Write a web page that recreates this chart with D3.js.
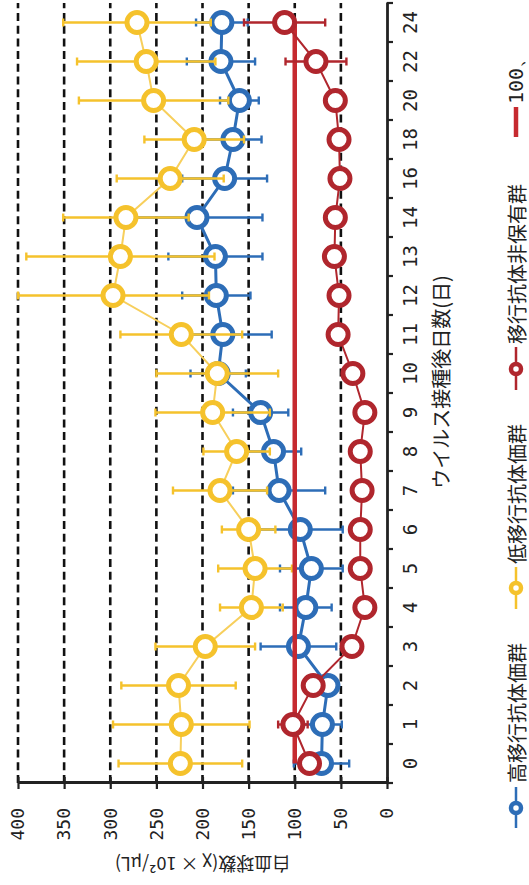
<!DOCTYPE html>
<html>
<head>
<meta charset="utf-8">
<script src="https://cdn.jsdelivr.net/npm/d3@7"></script>
<style>
  html, body { margin: 0; padding: 0; background: #fff; }
  svg { display: block; }
</style>
</head>
<body>
<svg id="chart"></svg>
<script>
// days after inoculation (category axis)
const days = ['0', '1', '2', '3', '4', '5', '6', '7', '8', '9', '10', '11', '12', '13', '14', '16', '18', '20', '22', '24'];

// 高移行抗体価群
const highMean = [71, 70, 64, 96, 88, 82, 94, 117, 123, 137, 183, 178, 185, 186, 206, 176, 167, 160, 180, 179];
const highSd = [30, 21, 10, 41, 28, 34, 46, 50, 30, 30, 30, 53, 37, 51, 71, 46, 31, 21, 37, 28];

// 低移行抗体価群
const lowMean = [224, 223, 226, 197, 147, 143, 150, 181, 163, 189, 184, 223, 297, 289, 283, 235, 209, 253, 261, 271];
const lowSd = [67, 74, 62, 54, 34, 40, 29, 51, 36, 62, 66, 66, 104, 102, 68, 58, 54, 81, 75, 80];

// 移行抗体非保有群
const noneMean = [84, 102, 80, 38, 24, 29, 29, 27, 29, 24, 37, 53, 52, 57, 56, 51, 52, 56, 77, 111];
const noneSd = [10, 16, 8, 8, 6, 6, 6, 6, 6, 6, 8, 8, 8, 8, 8, 8, 8, 8, 33, 44];

const valueTicks = [0, 50, 100, 150, 200, 250, 300, 350, 400];
const refValue = 100;

const W = 529, H = 885;          // page
const cw = 885, ch = 529;        // chart drawn unrotated, then turned 90deg ccw

const svg = d3.select('#chart').attr('width', W).attr('height', H);
const g = svg.append('g').attr('transform', `translate(0,${H}) rotate(-90)`);

const x = d3.scaleBand().domain(days).range([102, 882]).padding(0);
const y = d3.scaleLinear().domain([0, 400]).range([387, 18]);
const cx = d => x(d) + x.bandwidth() / 2;

const numFont = '"DejaVu Sans Mono", monospace';
const jpFont = '"Noto Sans CJK JP", sans-serif';

// dashed grid
g.append('g')
  .selectAll('line')
  .data(valueTicks.filter(v => v > 0))
  .join('line')
  .attr('x1', 102).attr('x2', 882)
  .attr('y1', d => y(d)).attr('y2', d => y(d))
  .attr('stroke', '#111')
  .attr('stroke-width', 2.6)
  .attr('stroke-dasharray', '8,4.7');

// value axis (ticks cross the line)
const yAxis = g.append('g')
  .attr('transform', 'translate(102,0)')
  .call(d3.axisLeft(y).tickValues(valueTicks).tickSizeInner(6).tickSizeOuter(0).tickPadding(19));
yAxis.select('.domain').attr('stroke', '#222').attr('stroke-width', 2.8);
yAxis.selectAll('.tick line').attr('x2', 6).attr('x1', -6).attr('stroke', '#222').attr('stroke-width', 2.2);
yAxis.selectAll('.tick text')
  .attr('font-family', numFont).attr('font-size', 18).attr('fill', '#222');

// day axis
const xAxis = g.append('g')
  .attr('transform', `translate(0,${y(0)})`)
  .call(d3.axisBottom(x).tickSize(0).tickPadding(17));
xAxis.select('.domain').attr('stroke', '#222').attr('stroke-width', 2.8);
xAxis.selectAll('.tick text')
  .attr('font-family', numFont).attr('font-size', 19).attr('fill', '#222');
xAxis.append('g')
  .selectAll('line')
  .data(days.map(d => x(d)).concat([x.range()[1]]))
  .join('line')
  .attr('x1', d => d).attr('x2', d => d)
  .attr('y1', 0).attr('y2', 6)
  .attr('stroke', '#222').attr('stroke-width', 2.2);

// axis titles
g.append('text')
  .attr('transform', `translate(20,${(y(0) + y(400)) / 2}) rotate(-90)`)
  .attr('text-anchor', 'middle')
  .attr('dominant-baseline', 'central')
  .attr('font-family', jpFont).attr('font-size', 18).attr('fill', '#222')
  .text('白血球数(χ × 10²/μL)');

g.append('text')
  .attr('x', 503).attr('y', 440)
  .attr('text-anchor', 'middle')
  .attr('dominant-baseline', 'central')
  .attr('font-family', jpFont).attr('font-size', 20).attr('fill', '#222')
  .text('ウイルス接種後日数(日)');

function drawSeries(mean, sd, color, lineColor, lineWidth) {
  const s = g.append('g');
  const rows = days.map((d, i) => ({ d, m: mean[i], e: sd[i] }));
  s.append('path')
    .datum(rows)
    .attr('fill', 'none')
    .attr('stroke', lineColor)
    .attr('stroke-width', lineWidth)
    .attr('d', d3.line().x(r => cx(r.d)).y(r => y(r.m)));
  const eb = s.append('g').attr('stroke', color).attr('stroke-width', 2.4);
  eb.selectAll('line.bar').data(rows).join('line').attr('class', 'bar')
    .attr('x1', r => cx(r.d)).attr('x2', r => cx(r.d))
    .attr('y1', r => y(Math.min(400, r.m + r.e))).attr('y2', r => y(r.m - r.e));
  eb.selectAll('line.hi').data(rows).join('line').attr('class', 'hi')
    .attr('x1', r => cx(r.d) - 4).attr('x2', r => cx(r.d) + 4)
    .attr('y1', r => y(Math.min(400, r.m + r.e))).attr('y2', r => y(Math.min(400, r.m + r.e)));
  eb.selectAll('line.lo').data(rows).join('line').attr('class', 'lo')
    .attr('x1', r => cx(r.d) - 4).attr('x2', r => cx(r.d) + 4)
    .attr('y1', r => y(r.m - r.e)).attr('y2', r => y(r.m - r.e));
  s.selectAll('circle').data(rows).join('circle')
    .attr('cx', r => cx(r.d)).attr('cy', r => y(r.m))
    .attr('r', 10)
    .attr('fill', '#fff')
    .attr('stroke', color)
    .attr('stroke-width', 5);
}

const blue = '#2d6db7', yellow = '#f5c22c', red = '#b0262d';

drawSeries(highMean, highSd, blue, blue, 3);
drawSeries(lowMean, lowSd, yellow, '#f7cf5c', 2);

// reference line at 100
g.append('line')
  .attr('x1', cx(days[0])).attr('x2', cx(days[days.length - 1]))
  .attr('y1', y(refValue)).attr('y2', y(refValue))
  .attr('stroke', '#c62a30').attr('stroke-width', 4.5);

drawSeries(noneMean, noneSd, red, red, 2);

// legend
const ly = 516;
const legend = g.append('g').attr('font-family', jpFont).attr('font-size', 20).attr('fill', '#222');
const items = [
  { label: '高移行抗体価群', color: blue, x0: 57, x1: 98, mx: 77, tx: 102 },
  { label: '低移行抗体価群', color: yellow, x0: 276, x1: 318, mx: 297, tx: 321 },
  { label: '移行抗体非保有群', color: red, x0: 495, x1: 538, mx: 516, tx: 541 }
];
items.forEach(it => {
  legend.append('line')
    .attr('x1', it.x0).attr('x2', it.x1).attr('y1', ly).attr('y2', ly)
    .attr('stroke', it.color).attr('stroke-width', 2.5);
  legend.append('circle')
    .attr('cx', it.mx).attr('cy', ly).attr('r', 5)
    .attr('fill', '#fff').attr('stroke', it.color).attr('stroke-width', 4.5);
  legend.append('text')
    .attr('x', it.tx).attr('y', ly)
    .attr('dominant-baseline', 'central')
    .text(it.label);
});
legend.append('line')
  .attr('x1', 748).attr('x2', 778).attr('y1', ly).attr('y2', ly)
  .attr('stroke', '#c62a30').attr('stroke-width', 4.5);
legend.append('text')
  .attr('x', 781).attr('y', ly)
  .attr('dominant-baseline', 'central')
  .attr('font-family', numFont)
  .text('100、');
</script>
</body>
</html>
